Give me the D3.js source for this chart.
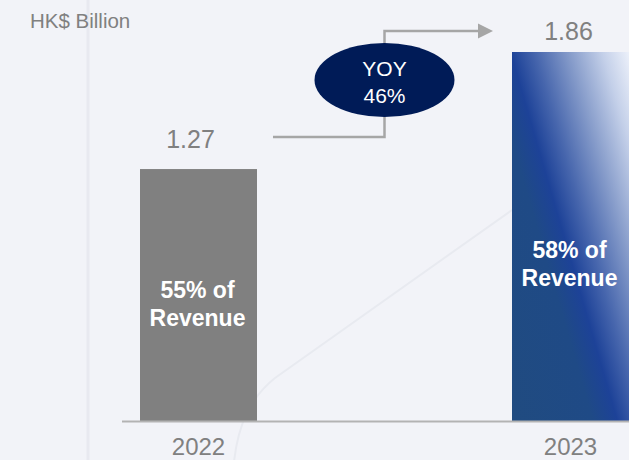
<!DOCTYPE html>
<html>
<head>
<meta charset="utf-8">
<script src="https://cdn.jsdelivr.net/npm/d3@7"></script>
<style>
  html, body { margin: 0; padding: 0; background: #f2f3f8; }
  svg { display: block; }
  text { font-family: "Liberation Sans", Arial, sans-serif; }
</style>
</head>
<body>
<svg id="chart" width="629" height="460"></svg>
<script>
// Revenue share figures, HK$ billion
const years = ["2022", "2023"];
const values = [1.27, 1.86];
const valueLabels = ["1.27", "1.86"];
const shareLabels = [["55% of", "Revenue"], ["58% of", "Revenue"]];
const yoyLabel = ["YOY", "46%"];
const unitLabel = "HK$ Billion";

const W = 629, H = 460;
const baseY = 421;

const svg = d3.select("#chart");

const x = d3.scaleBand()
  .domain(years)
  .range([140, 629])
  .paddingInner(0.6855)
  .paddingOuter(0);

const y = d3.scaleLinear()
  .domain([0, 1.86])
  .range([baseY, 52]);

// gradient for the highlighted bar
const defs = svg.append("defs");
const grad = defs.append("linearGradient")
  .attr("id", "blueGrad")
  .attr("gradientUnits", "userSpaceOnUse")
  .attr("x1", 512).attr("y1", 421)
  .attr("x2", 719).attr("y2", 361);
[
  [0.00, "#204b80"],
  [0.36, "#1f4a86"],
  [0.47, "#1d4298"],
  [0.58, "#4766ad"],
  [0.74, "#8a9fcc"],
  [0.88, "#c4d0e9"],
  [1.00, "#edf1fa"]
].forEach(([o, c]) => grad.append("stop").attr("offset", o).attr("stop-color", c));

// faint background decoration
svg.append("line")
  .attr("x1", 88).attr("x2", 88).attr("y1", 0).attr("y2", H)
  .attr("stroke", "#e8e9f0").attr("stroke-width", 3);
svg.append("path")
  .attr("d", "M234,462 C238,425 250,398 275,378 L512,210")
  .attr("fill", "none")
  .attr("stroke", "#e8eaf0").attr("stroke-width", 2);

// unit caption
svg.append("text")
  .attr("x", 30).attr("y", 28)
  .attr("font-size", 20.5)
  .attr("fill", "#808080")
  .text(unitLabel);

// bars
const fills = ["#808080", "url(#blueGrad)"];
svg.selectAll("rect.bar")
  .data(values)
  .join("rect")
  .attr("class", "bar")
  .attr("x", (d, i) => x(years[i]))
  .attr("y", d => y(d))
  .attr("width", x.bandwidth())
  .attr("height", d => baseY - y(d))
  .attr("fill", (d, i) => fills[i]);

// baseline
svg.append("line")
  .attr("x1", 122).attr("x2", W)
  .attr("y1", baseY + 0.5).attr("y2", baseY + 0.5)
  .attr("stroke", "#b3b3b3").attr("stroke-width", 2);

// category labels
const xAxis = d3.axisBottom(x).tickSize(0).tickPadding(0);
const gx = svg.append("g")
  .attr("transform", `translate(0,${baseY})`)
  .call(xAxis);
gx.select(".domain").remove();
gx.selectAll("text")
  .attr("y", 34)
  .attr("dy", 0)
  .attr("font-size", 24)
  .attr("fill", "#808080")
  .style("font-family", "'Liberation Sans', Arial, sans-serif");

// value labels above bars
const valueGap = [21, 12];
svg.selectAll("text.val")
  .data(values)
  .join("text")
  .attr("class", "val")
  .attr("x", (d, i) => x(years[i]) + x.bandwidth() / 2 + (i === 0 ? -8 : -2))
  .attr("y", (d, i) => y(d) - valueGap[i])
  .attr("text-anchor", "middle")
  .attr("font-size", 25)
  .attr("fill", "#808080")
  .text((d, i) => valueLabels[i]);

// share labels inside bars
const innerShift = [9, 27];
values.forEach((v, i) => {
  const cx = x(years[i]) + x.bandwidth() / 2 - 1;
  const cy = y(v / 2) + innerShift[i];
  svg.append("text")
    .attr("x", cx)
    .attr("text-anchor", "middle")
    .attr("font-size", 23)
    .attr("font-weight", "bold")
    .attr("fill", "#ffffff")
    .selectAll("tspan")
    .data(shareLabels[i])
    .join("tspan")
    .attr("x", cx)
    .attr("y", (d, j) => cy - 6 + j * 28)
    .text(d => d);
});

// growth connector arrow
const x0 = x(years[0]) + x.bandwidth() + 16;
const x1 = x(years[1]) - 19;
const xm = (x(years[0]) + x.bandwidth() / 2 + x(years[1]) + x.bandwidth() / 2) / 2;
const yLow = y(values[0]) - 32;
const yHigh = y(values[1]) - 21;
svg.append("path")
  .attr("d", d3.line()([[x0, yLow], [xm, yLow], [xm, yHigh], [x1 - 14, yHigh]]))
  .attr("fill", "none")
  .attr("stroke", "#a6a6a6")
  .attr("stroke-width", 2.5);
svg.append("path")
  .attr("d", d3.line()([[x1 - 15, yHigh - 7.5], [x1, yHigh], [x1 - 15, yHigh + 7.5]]) + "Z")
  .attr("fill", "#a6a6a6");

// YOY badge
const ecy = 80;
svg.append("ellipse")
  .attr("cx", xm).attr("cy", ecy)
  .attr("rx", 70).attr("ry", 37)
  .attr("fill", "#001b57");
svg.append("text")
  .attr("text-anchor", "middle")
  .attr("font-size", 21)
  .attr("fill", "#ffffff")
  .selectAll("tspan")
  .data(yoyLabel)
  .join("tspan")
  .attr("x", xm)
  .attr("y", (d, j) => ecy - 4 + j * 27)
  .text(d => d);
</script>
</body>
</html>
